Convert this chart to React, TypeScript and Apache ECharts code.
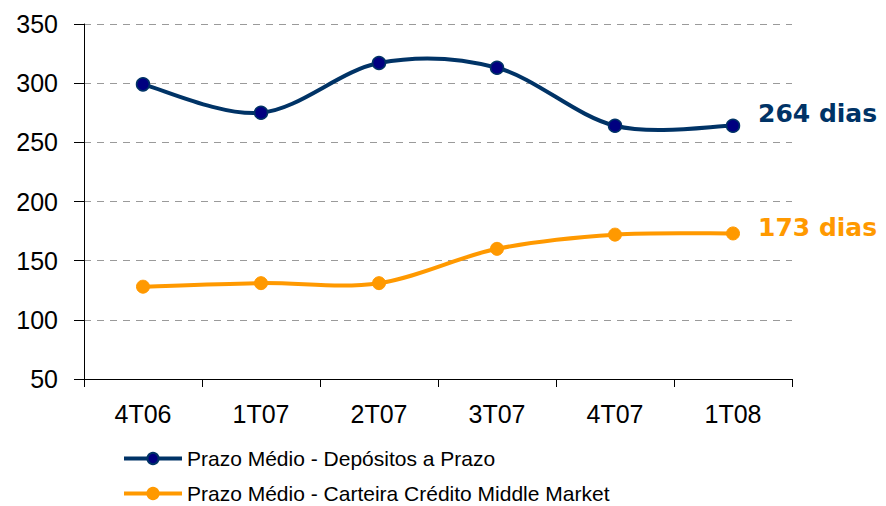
import React, { useEffect, useRef } from "react";
import * as echarts from "echarts";

const categories = ["4T06", "1T07", "2T07", "3T07", "4T07", "1T08"];
const depositos = [299, 275, 317, 313, 264, 264];
const carteira = [128, 131, 131, 160, 172, 173];
const seriesNames = [
  "Prazo Médio - Depósitos a Prazo",
  "Prazo Médio - Carteira Crédito Middle Market",
];
const yTicks = { min: 50, max: 350, interval: 50 };

const BLUE = "#003366";
const NAVY = "#000080";
const ORANGE = "#FF9900";
const AXIS_FONT = "'Liberation Sans', Arial, sans-serif";
const LABEL_FONT = "'DejaVu Sans', Verdana, sans-serif";
const LINE_W = 4;

// Excel-style smoothed segment (Catmull-Rom → cubic Bezier) drawn through the axes
function smoothSegment(values: number[], color: string) {
  return (params: any, api: any) => {
    const i = params.dataIndex;
    if (i >= values.length - 1) return null;
    const p = (k: number) => {
      const kk = Math.max(0, Math.min(values.length - 1, k));
      return api.coord([kk, values[kk]]);
    };
    const p0 = p(i - 1);
    const p1 = p(i);
    const p2 = p(i + 1);
    const p3 = p(i + 2);
    const cp1 = [p1[0] + (p2[0] - p0[0]) / 6, p1[1] + (p2[1] - p0[1]) / 6];
    const cp2 = [p2[0] - (p3[0] - p1[0]) / 6, p2[1] - (p3[1] - p1[1]) / 6];
    return {
      type: "bezierCurve",
      shape: {
        x1: p1[0],
        y1: p1[1],
        cpx1: cp1[0],
        cpy1: cp1[1],
        cpx2: cp2[0],
        cpy2: cp2[1],
        x2: p2[0],
        y2: p2[1],
      },
      style: { stroke: color, lineWidth: LINE_W, fill: null, lineCap: "round" },
      silent: true,
    };
  };
}

export default function App() {
  const ref = useRef<HTMLDivElement>(null);
  useEffect(() => {
    if (!ref.current) return;
    const chart = echarts.init(ref.current, undefined, { renderer: "svg" });
    chart.setOption({
      animation: false,
      backgroundColor: "#ffffff",
      grid: { left: 84, right: 94, top: 24, bottom: 127, containLabel: false },
      legend: {
        orient: "vertical",
        left: 122,
        top: 448,
        padding: 0,
        itemWidth: 58,
        itemHeight: 14,
        itemGap: 14,
        textStyle: {
          fontFamily: AXIS_FONT,
          fontSize: 21,
          lineHeight: 21,
          color: "#000",
        },
        data: [
          {
            name: seriesNames[0],
            lineStyle: { color: BLUE, width: LINE_W, opacity: 1 },
          },
          {
            name: seriesNames[1],
            lineStyle: { color: ORANGE, width: LINE_W, opacity: 1 },
          },
        ],
      },
      xAxis: {
        type: "category",
        data: categories,
        boundaryGap: true,
        axisLine: { lineStyle: { color: "#000", width: 1 } },
        axisTick: { show: true, length: 8, lineStyle: { color: "#000" } },
        axisLabel: {
          fontFamily: AXIS_FONT,
          fontSize: 25,
          color: "#000",
          margin: 22,
        },
      },
      yAxis: {
        type: "value",
        min: yTicks.min,
        max: yTicks.max,
        interval: yTicks.interval,
        axisLine: { show: true, lineStyle: { color: "#000", width: 1 } },
        axisTick: { show: true, length: 10, lineStyle: { color: "#000" } },
        axisLabel: {
          fontFamily: AXIS_FONT,
          fontSize: 25,
          color: "#000",
          margin: 26,
        },
        splitLine: {
          show: true,
          lineStyle: { color: "#9a9a9a", type: [7, 6], width: 1 },
        },
      },
      series: [
        {
          name: seriesNames[0] + " curve",
          type: "custom",
          data: depositos.map((v, i) => [i, v]),
          renderItem: smoothSegment(depositos, BLUE),
          z: 2,
          silent: true,
        },
        {
          name: seriesNames[1] + " curve",
          type: "custom",
          data: carteira.map((v, i) => [i, v]),
          renderItem: smoothSegment(carteira, ORANGE),
          z: 2,
          silent: true,
        },
        {
          name: seriesNames[0],
          type: "line",
          data: depositos,
          z: 3,
          symbol: "circle",
          symbolSize: 13,
          lineStyle: { color: BLUE, width: LINE_W, opacity: 0 },
          itemStyle: { color: NAVY, borderColor: BLUE, borderWidth: 1.5 },
          endLabel: {
            show: true,
            formatter: "{c} dias",
            distance: 25,
            offset: [0, -12],
            color: BLUE,
            fontFamily: LABEL_FONT,
            fontWeight: "bold",
            fontSize: 25,
          },
        },
        {
          name: seriesNames[1],
          type: "line",
          data: carteira,
          z: 3,
          symbol: "circle",
          symbolSize: 13,
          lineStyle: { color: ORANGE, width: LINE_W, opacity: 0 },
          itemStyle: { color: ORANGE, borderColor: ORANGE, borderWidth: 1 },
          endLabel: {
            show: true,
            formatter: "{c} dias",
            distance: 25,
            offset: [0, -6],
            color: ORANGE,
            fontFamily: LABEL_FONT,
            fontWeight: "bold",
            fontSize: 25,
          },
        },
      ],
    });
    return () => chart.dispose();
  }, []);
  return (
    <div
      ref={ref}
      style={{ position: "absolute", left: 0, top: 0, width: 886, height: 506 }}
    />
  );
}
